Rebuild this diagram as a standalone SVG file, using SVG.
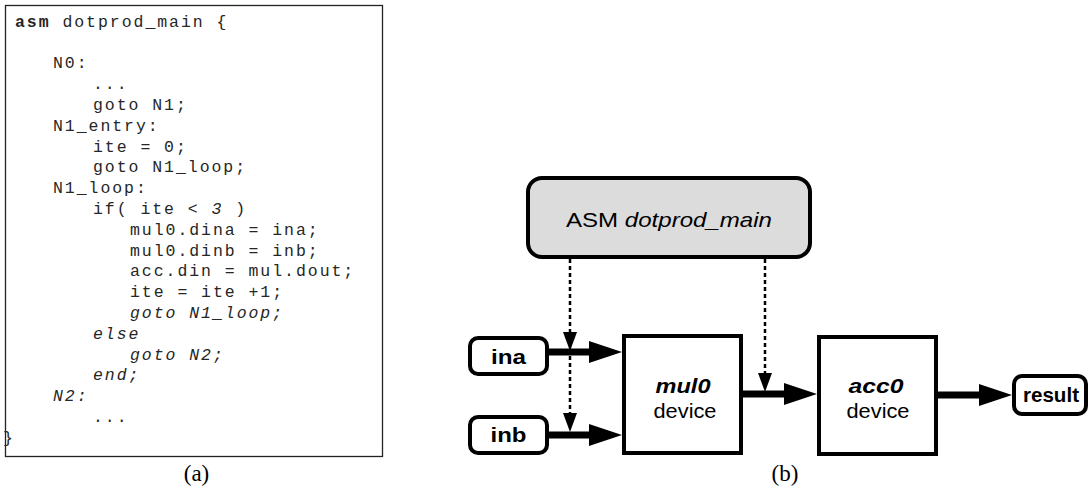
<svg xmlns="http://www.w3.org/2000/svg" width="1091" height="497" viewBox="0 0 1091 497">
<style>
.code{font-family:"Liberation Mono","DejaVu Sans Mono",monospace;font-size:16.5px;letter-spacing:1.95px;fill:#262626}
.it{font-style:italic}
.cap{font-family:"Liberation Serif","DejaVu Serif",serif;font-size:23px;fill:#000;text-anchor:middle}
.box{fill:#fff;stroke:#000;stroke-width:4}
.port{fill:#fff;stroke:#000;stroke-width:4}
.lbl{font-family:"Liberation Sans",Arial,sans-serif;fill:#000;text-anchor:middle}
.b{font-weight:bold}
.thick{stroke:#000;stroke-width:7;fill:none}
.dot{stroke:#000;stroke-width:2.5;stroke-dasharray:4 3;fill:none}
</style>
<defs>
<marker id="bigArrow" markerUnits="userSpaceOnUse" markerWidth="34" markerHeight="24" viewBox="0 0 34 24" refX="13" refY="12" orient="auto">
<path d="M0,1 L33,12 L0,23 z" fill="#000"/>
</marker>
<marker id="smallArrow" markerUnits="userSpaceOnUse" markerWidth="20" markerHeight="15" viewBox="0 0 20 15" refX="8" refY="7.5" orient="auto">
<path d="M0,0.5 L19,7.5 L0,14.5 z" fill="#000"/>
</marker>
</defs>
<rect width="1091" height="497" fill="#fff"/>

<g id="code-listing">
<rect x="5.5" y="5.5" width="377" height="451" fill="#fff" stroke="#222" stroke-width="1.3"/>
<text class="code" x="15" y="26.7"><tspan font-weight="bold">asm</tspan> dotprod_main {</text>
<text class="code" x="53" y="68.3">N0:</text>
<text class="code" x="93" y="89.1">...</text>
<text class="code" x="93" y="109.9">goto N1;</text>
<text class="code" x="53" y="130.7">N1_entry:</text>
<text class="code" x="93" y="151.5">ite = 0;</text>
<text class="code" x="93" y="172.3">goto N1_loop;</text>
<text class="code" x="53" y="193.1">N1_loop:</text>
<text class="code" x="93" y="213.9">if( ite &lt; <tspan class="it">3</tspan> )</text>
<text class="code" x="130" y="234.7">mul0.dina = ina;</text>
<text class="code" x="130" y="255.5">mul0.dinb = inb;</text>
<text class="code" x="130" y="276.3">acc.din = mul.dout;</text>
<text class="code" x="130" y="297.1">ite = ite +1;</text>
<text class="code it" x="130" y="317.9">goto N1_loop;</text>
<text class="code it" x="93" y="338.7">else</text>
<text class="code it" x="130" y="359.5">goto N2;</text>
<text class="code it" x="93" y="380.3">end;</text>
<text class="code it" x="53" y="401.1">N2:</text>
<text class="code" x="93" y="421.9">...</text>
<text class="code" x="3" y="442.7">}</text>
</g>
<text id="caption-a" class="cap" x="196.5" y="481">(a)</text>

<g id="connectors">
<path class="dot" d="M570,259 V340" marker-end="url(#smallArrow)"/>
<path class="dot" d="M570,356 V421" marker-end="url(#smallArrow)"/>
<path class="dot" d="M765,259 V381" marker-end="url(#smallArrow)"/>
<path class="thick" d="M549,352 H602" marker-end="url(#bigArrow)"/>
<path class="thick" d="M549,435 H602" marker-end="url(#bigArrow)"/>
<path class="thick" d="M743,394 H797" marker-end="url(#bigArrow)"/>
<path class="thick" d="M938,395 H992" marker-end="url(#bigArrow)"/>
</g>

<g id="asm-node">
<rect x="528" y="178" width="282" height="79" rx="14" fill="#dcdcdc" stroke="#000" stroke-width="4"/>
<text class="lbl" x="669" y="227" font-size="21" textLength="206" lengthAdjust="spacingAndGlyphs">ASM <tspan class="it">dotprod_main</tspan></text>
</g>

<g id="ina-node">
<rect class="port" x="470" y="338" width="77" height="36" rx="8"/>
<text class="lbl b" x="508.5" y="364" font-size="21" textLength="35" lengthAdjust="spacingAndGlyphs">ina</text>
</g>

<g id="inb-node">
<rect class="port" x="470" y="417" width="77" height="36" rx="8"/>
<text class="lbl b" x="508.5" y="442" font-size="21" textLength="36" lengthAdjust="spacingAndGlyphs">inb</text>
</g>

<g id="mul0-node">
<rect class="box" x="624" y="336" width="117" height="117"/>
<text class="lbl b it" x="683" y="393" font-size="19.5" textLength="55" lengthAdjust="spacingAndGlyphs">mul0</text>
<text class="lbl" x="685" y="418" font-size="19.5" textLength="63" lengthAdjust="spacingAndGlyphs">device</text>
</g>

<g id="acc0-node">
<rect class="box" x="819" y="337" width="117" height="117"/>
<text class="lbl b it" x="876" y="393" font-size="19.5" textLength="55" lengthAdjust="spacingAndGlyphs">acc0</text>
<text class="lbl" x="878" y="418" font-size="19.5" textLength="63" lengthAdjust="spacingAndGlyphs">device</text>
</g>

<g id="result-node">
<rect class="port" x="1014" y="376" width="72" height="38" rx="8"/>
<text class="lbl b" x="1051" y="402" font-size="20" textLength="56" lengthAdjust="spacingAndGlyphs">result</text>
</g>

<text id="caption-b" class="cap" x="785" y="481">(b)</text>
</svg>
